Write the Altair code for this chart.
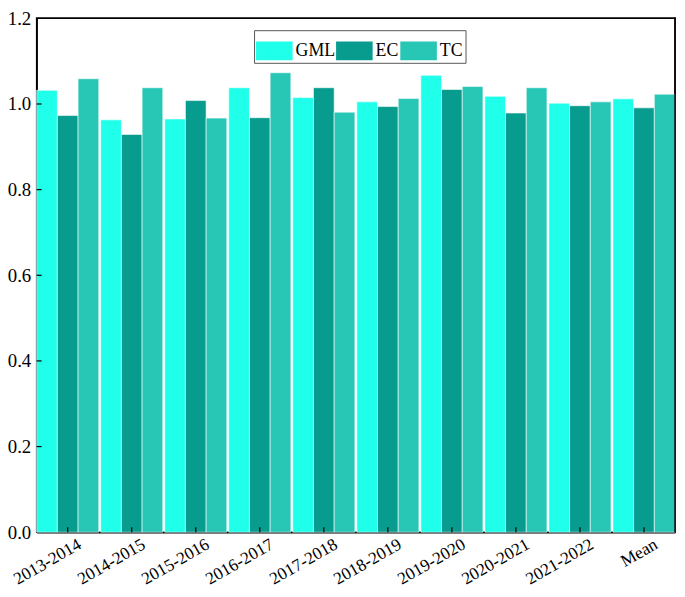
import altair as alt
import pandas as pd

periods = ["2013-2014", "2014-2015", "2015-2016", "2016-2017", "2017-2018",
           "2018-2019", "2019-2020", "2020-2021", "2021-2022", "Mean"]
indices = ["GML", "EC", "TC"]
gml = [1.032, 0.963, 0.965, 1.038, 1.015, 1.005, 1.067, 1.018, 1.002, 1.012]
ec = [0.973, 0.929, 1.008, 0.968, 1.038, 0.994, 1.034, 0.979, 0.996, 0.991]
tc = [1.059, 1.038, 0.967, 1.073, 0.981, 1.013, 1.041, 1.038, 1.005, 1.023]
colors = ["#1fffe9", "#079c8e", "#27c6b5"]
y_ticks = [0.0, 0.2, 0.4, 0.6, 0.8, 1.0, 1.2]

rows = []
for i, p in enumerate(periods):
    for name, vals in zip(indices, [gml, ec, tc]):
        rows.append({"Period": p, "Index": name, "Value": vals[i]})
df = pd.DataFrame(rows)
tick_df = pd.DataFrame({"t": y_ticks[1:-1]})
per_df = pd.DataFrame({"Period": periods})
one_df = pd.DataFrame({"k": [0]})

FONT = "Liberation Serif"
W, H = 646, 520

x_enc = alt.X("Period:N", sort=periods, title=None,
              scale=alt.Scale(paddingInner=0.03, paddingOuter=0),
              axis=alt.Axis(labelAngle=-30, labelAlign="right", labelBaseline="top",
                            labelFontSize=17.5, labelFont=FONT, labelColor="black",
                            ticks=False, labelPadding=3, labelOffset=8,
                            domainColor="black", domainWidth=1.5))

bars = alt.Chart(df).mark_bar(stroke="white", strokeWidth=0.6).encode(
    x=x_enc,
    xOffset=alt.XOffset("Index:N", sort=indices),
    y=alt.Y("Value:Q", title=None,
            scale=alt.Scale(domain=[0, 1.2], nice=False),
            axis=alt.Axis(values=y_ticks, format=".1f", ticks=False,
                          labelFontSize=19, labelFont=FONT, labelColor="black",
                          labelPadding=6, grid=False, domainColor="black",
                          domainWidth=1.5)),
    color=alt.Color("Index:N", sort=indices,
                    scale=alt.Scale(domain=indices, range=colors),
                    legend=alt.Legend(
                        title=None, orient="none", legendX=220, legendY=12,
                        direction="horizontal",
                        symbolType="M-1,-0.514L1,-0.514L1,0.514L-1,0.514Z",
                        symbolSize=1369, symbolStrokeWidth=0,
                        labelFont=FONT, labelFontSize=18, labelColor="black",
                        labelOffset=3, columnPadding=1, padding=2,
                        strokeColor="#555555", fillColor="white",
                        symbolOpacity=1)),
)

ytick = alt.Chart(tick_df).mark_rule(color="black", strokeWidth=1.2).encode(
    y=alt.Y("t:Q"),
    x=alt.value(0), x2=alt.value(5),
)

xtick = alt.Chart(per_df).mark_rule(color="black", strokeWidth=1.2).encode(
    x=alt.X("Period:N", sort=periods),
    y=alt.value(H), y2=alt.value(H - 5),
)

top_bar = alt.Chart(one_df).mark_rect(color="black", opacity=1).encode(
    x=alt.value(-0.75), x2=alt.value(W + 0.75), y=alt.value(-0.75), y2=alt.value(0.75),
)
right_bar = alt.Chart(one_df).mark_rect(color="black", opacity=1).encode(
    x=alt.value(W - 0.75), x2=alt.value(W + 0.75), y=alt.value(-0.75), y2=alt.value(H),
)

chart = alt.layer(bars, ytick, xtick, top_bar, right_bar).properties(
    width=W, height=H,
    autosize=alt.AutoSizeParams(type="none"),
    padding={"left": 29, "top": 7, "right": 2, "bottom": 54},
    view=alt.ViewBackground(stroke="black", strokeWidth=1.5),
).configure(background="white", font=FONT).configure_view(
    stroke="black", strokeWidth=1.5
).configure_axis(labelFont=FONT).configure_legend(labelFont=FONT)

chart.save("out.html", embed_options={"renderer": "svg", "actions": False})
